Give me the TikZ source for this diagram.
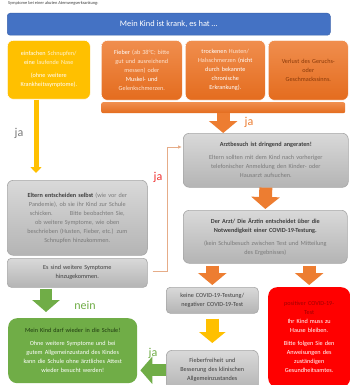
\documentclass[tikz,border=0pt]{standalone}
\usepackage{fontspec}
\setmainfont{Carlito}
\usetikzlibrary{arrows.meta,calc}
\definecolor{hdrBlue}{HTML}{4472C4}
\definecolor{hdrLine}{HTML}{3A63AD}
\definecolor{yel}{HTML}{FFC000}
\definecolor{yelTxt}{HTML}{FFF2CC}
\definecolor{oTop}{HTML}{F08E4E}
\definecolor{oBot}{HTML}{E46C1E}
\definecolor{oArr}{HTML}{ED7D31}
\definecolor{oTxt}{HTML}{FDE4D2}
\definecolor{oDark}{HTML}{8A3A0A}
\definecolor{thinO}{HTML}{E6AC88}
\definecolor{gTop}{HTML}{D9D9D9}
\definecolor{gBot}{HTML}{B4B4B4}
\definecolor{gLine}{HTML}{A6A6A6}
\definecolor{gTxt}{HTML}{7A7A7A}
\definecolor{gDark}{HTML}{3F3F3F}
\definecolor{grn}{HTML}{70AD47}
\definecolor{grnDark}{HTML}{1E3A10}
\definecolor{redBox}{HTML}{FF0000}
\definecolor{redDark}{HTML}{A00000}
\definecolor{jaRed}{HTML}{F03030}
\tikzset{
  box/.style={rounded corners=6pt, align=center, inner sep=2pt, anchor=north west,
    font=\fontsize{6.2}{9}\selectfont},
  graybox/.style={box, draw=gLine, line width=0.6pt, top color=gTop, bottom color=gBot, text=gTxt},
  orangebox/.style={box, draw=white, line width=0.6pt, top color=oTop, bottom color=oBot, text=oTxt},
  yellowbox/.style={box, draw=white, line width=0.6pt, fill=yel, text=white},
  redbox/.style={box, fill=redBox, text=white, rounded corners=9pt},
  greenbox/.style={box, fill=grn, text=white, rounded corners=9pt},
  orangearrow/.style={draw=oArr, line width=13pt, -{Triangle[width=28pt,length=12pt]}},
  yellowblock/.style={draw=yel, line width=13pt, -{Triangle[width=26pt,length=11pt]}},
  greenarrow/.style={draw=grn, line width=12pt, -{Triangle[width=27pt,length=12pt]}},
  yellowthin/.style={draw=yel, line width=5pt, -{Triangle[width=11pt,length=6pt]}},
  thinarrow/.style={draw=thinO, line width=1pt, -{Latex[length=4pt,width=3.5pt]}},
  lbl/.style={font=\fontsize{12}{12}\selectfont, inner sep=0pt}
}
\begin{document}
\begin{tikzpicture}[x=1pt,y=-1pt]
\useasboundingbox (0,0) rectangle (350,385);
\fill[white] (0,0) rectangle (350,385);
% title line
\node[anchor=west, inner sep=0pt, text=gDark, font=\fontsize{4.4}{5}\selectfont] (title) at (8,3.2) {Symptome bei einer akuten Atemwegserkrankung:};
% header
\node[box, rounded corners=3pt, fill=hdrBlue, draw=hdrLine, line width=0.5pt, text=white,
  minimum width=323pt, minimum height=22pt, font=\fontsize{8.4}{9}\selectfont] (hdr) at (7,13) {Mein Kind ist krank, es hat \dots};
% symptom boxes
\node[yellowbox, minimum width=83pt, minimum height=59pt, text width=79pt] (yb) at (7,40)
 {einfachen \textcolor{yelTxt}{Schnupfen/}\\eine \textcolor{yelTxt}{laufende Nase}\\[4pt](ohne weitere\\Krankheitssymptome).};
\node[orangebox, minimum width=81pt, minimum height=60pt, text width=77pt] (o1) at (101,40)
 {\textcolor{white}{Fieber} (ab 38°C; bitte\\gut und ausreichend\\messen) oder\\\textcolor{white}{Muskel- und}\\Gelenkschmerzen.};
\node[orangebox, minimum width=80pt, minimum height=60pt, text width=76pt] (o2) at (185,40)
 {\textcolor{white}{trockenen} Husten/\\Halsschmerzen \textcolor{white}{(nicht}\\\textcolor{white}{durch bekannte}\\\textcolor{white}{chronische}\\\textcolor{white}{Erkrankung).}};
\node[orangebox, minimum width=80pt, minimum height=60pt, text width=76pt, text=oDark] (o3) at (268,40)
 {Verlust des Geruchs-\\oder\\Geschmackssinns.};
\node[box, rounded corners=2pt, minimum width=244pt, minimum height=11pt, inner sep=0pt,
  top color=oTop, bottom color=oBot] (bar) at (101,102) {};
% gray boxes
\node[graybox, minimum width=165pt, minimum height=54pt, text width=159pt] (arzt) at (183,133)
 {\textcolor{gDark}{\textbf{Arztbesuch ist dringend angeraten!}}\\[4pt]Eltern sollten mit dem Kind nach vorheriger\\telefonischer Anmeldung den Kinder- oder\\Hausarzt aufsuchen.};
\node[graybox, minimum width=164pt, minimum height=53pt, text width=158pt] (derarzt) at (183,210)
 {\textcolor{gDark}{\textbf{Der Arzt/ Die Ärztin entscheidet über die}}\\\textcolor{gDark}{\textbf{Notwendigkeit einer COVID-19-Testung.}}\\[4pt](kein Schulbesuch zwischen Test und Mitteilung\\des Ergebnisses)};
\node[graybox, minimum width=140pt, minimum height=75pt, text width=134pt] (eltern) at (7,180)
 {\textcolor{gDark}{\textbf{Eltern entscheiden selbst}} (wie vor der\\Pandemie), ob sie ihr Kind zur Schule\\schicken.\hspace{14pt} Bitte beobachten Sie,\\ob weitere Symptome, wie oben\\beschrieben (Husten, Fieber, etc.) zum\\Schnupfen hinzukommen.};
\node[graybox, minimum width=140pt, minimum height=29pt, text width=134pt, rounded corners=4pt] (essind) at (7,258)
 {\textcolor{gDark}{Es sind weitere Symptome}\\\textcolor{gDark}{hinzugekommen.}};
\node[graybox, minimum width=92pt, minimum height=26pt, text width=88pt, rounded corners=4pt, text=gDark] (keine) at (166,287)
 {keine COVID-19-Testung/\\negativer COVID-19-Test};
\node[graybox, minimum width=92pt, minimum height=40pt, text width=88pt, text=gDark, anchor=north west] (fieber) at (166,350)
 {Fieberfreiheit und\\Besserung des klinischen\\Allgemeinzustandes};
\node[redbox, minimum width=82pt, minimum height=100pt, text width=78pt] (red) at (268,287)
 {\textcolor{redDark}{positiver COVID-19-}\\\textcolor{redDark}{Test}\\Ihr Kind muss zu\\Hause bleiben.\\[4pt]Bitte folgen Sie den\\Anweisungen des\\zuständigen\\Gesundheitsamtes.};
\node[greenbox, minimum width=129pt, minimum height=65pt, text width=125pt] (green) at (8,318)
 {\textcolor{grnDark}{Mein Kind darf wieder in die Schule!}\\[4pt]Ohne weitere Symptome und bei\\gutem Allgemeinzustand des Kindes\\kann die Schule ohne ärztliches Attest\\wieder besucht werden!};
% arrows
\coordinate (ya) at ($(yb.south west)+(29,0)$);
\draw[yellowthin] (ya) -- (ya |- eltern.north) [shorten >=7pt];
\node[lbl, text=gTxt] (ja1) at (19,133) {ja};
\draw[orangearrow] (bar.south) -- (bar.south |- arzt.north);
\node[lbl, text=oArr] (ja2) at (249,122) {ja};
\draw[orangearrow] (arzt.south) -- (derarzt.north) [shorten >=1pt];
\draw[orangearrow] (keine.north |- derarzt.south) -- (keine.north) [shorten <=2pt, shorten >=2pt];
\draw[orangearrow] (red.north |- derarzt.south) -- (red.north) [shorten <=2pt, shorten >=2pt];
\draw[yellowblock] (keine.south) -- (fieber.north) [shorten <=5pt, shorten >=7pt];
\coordinate (gd) at ($(essind.south west)+(39,0)$);
\draw[greenarrow] (gd) -- (gd |- green.north) [shorten <=1pt, shorten >=6pt];
\node[lbl, text=grn] (nein) at (85,305) {nein};
\draw[greenarrow] (fieber.west) -- (fieber.west -| green.east) [shorten >=3pt];
\node[lbl, text=grn] (ja4) at (153,353) {ja};
\coordinate (c1) at ($(essind.east)+(20,-1)$);
\draw[thinarrow] ($(essind.east)+(5,-1)$) -- (c1) |- ($(arzt.north west)+(-1,14)$);
\node[lbl, text=jaRed] (ja3) at (158,177) {ja};
\end{tikzpicture}
\end{document}
